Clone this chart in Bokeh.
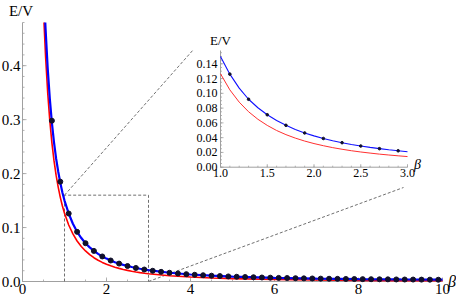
from bokeh.plotting import figure
from bokeh.models import Range1d
from bokeh.embed import file_html
from bokeh.resources import INLINE
from bokeh.core.properties import value

# ---------------- data ----------------
beta = [0.55, 0.6, 0.65, 0.7, 0.75, 0.8, 0.85, 0.9, 0.95,
        1.0, 1.1, 1.2, 1.3, 1.4, 1.5, 1.6, 1.7, 1.8, 1.9,
        2.0, 2.1, 2.2, 2.3, 2.4, 2.5, 2.6, 2.7, 2.8, 2.9,
        3.0, 3.5, 4.0, 4.5, 5.0, 6.0, 7.0, 8.0, 9.0, 10.0]
blue_ev = [0.467, 0.395, 0.339, 0.294, 0.258, 0.228, 0.204, 0.183, 0.165,
           0.150, 0.126, 0.107, 0.092, 0.0805, 0.071, 0.0632, 0.0567, 0.0511, 0.0464,
           0.0424, 0.0389, 0.0358, 0.0332, 0.0308, 0.0287, 0.0268, 0.0251, 0.0236, 0.0222,
           0.0210, 0.0162, 0.0130, 0.0108, 0.0091, 0.0069, 0.0055, 0.0045, 0.0038, 0.0033]
red_ev = [0.416, 0.350, 0.298, 0.257, 0.224, 0.197, 0.175, 0.156, 0.140,
          0.1265, 0.1047, 0.0881, 0.0751, 0.0649, 0.0566, 0.0497, 0.0441, 0.0394, 0.0354,
          0.0320, 0.0291, 0.0265, 0.0243, 0.0223, 0.0206, 0.0191, 0.0177, 0.0165, 0.0154,
          0.0144, 0.0106, 0.0082, 0.0065, 0.0053, 0.0037, 0.0028, 0.0021, 0.0017, 0.0014]
# where each curve leaves the top of the plot (beta, E/V)
blue_top = (0.542, 0.48)
red_top = (0.512, 0.48)

dot_beta = [0.7, 0.9, 1.1, 1.3, 1.5, 1.7, 1.9, 2.1, 2.3, 2.5, 2.7, 2.9,
            3.1, 3.3, 3.5, 3.7, 3.9, 4.1, 4.3, 4.5, 4.7, 4.9, 5.1, 5.3, 5.5,
            5.7, 5.9, 6.1, 6.3, 6.5, 6.7, 6.9, 7.1, 7.3, 7.5, 7.7, 7.9, 8.1,
            8.3, 8.5, 8.7, 8.9, 9.1, 9.3, 9.5, 9.7, 9.9]
dot_ev = [0.298, 0.185, 0.126, 0.092, 0.071, 0.0567, 0.0464, 0.0389, 0.0332, 0.0287, 0.0251, 0.0222,
          0.0199, 0.0179, 0.0162, 0.0148, 0.0136, 0.0125, 0.0116, 0.0108, 0.0101, 0.0094, 0.0088, 0.0083, 0.0079,
          0.0074, 0.0071, 0.0067, 0.0064, 0.0061, 0.0058, 0.0056, 0.0053, 0.0051, 0.0049, 0.0047, 0.0046, 0.0044,
          0.0042, 0.0041, 0.0040, 0.0038, 0.0037, 0.0036, 0.0035, 0.0034, 0.0033]

x_ticks = [0, 2, 4, 6, 8, 10]
x_labels = ["0", "2", "4", "6", "8", "10"]
y_ticks = [0.0, 0.1, 0.2, 0.3, 0.4]
y_labels = ["0.0", "0.1", "0.2", "0.3", "0.4"]
inset_x_ticks = [1.0, 1.5, 2.0, 2.5, 3.0]
inset_x_labels = ["1.0", "1.5", "2.0", "2.5", "3.0"]
inset_y_ticks = [0.00, 0.02, 0.04, 0.06, 0.08, 0.10, 0.12, 0.14]
inset_y_labels = ["0.00", "0.02", "0.04", "0.06", "0.08", "0.10", "0.12", "0.14"]

zoom_x = [1.0, 3.0]
zoom_y = [0.0, 0.16]

# ---------------- layout constants ----------------
W, H = 456, 302
FL, FR, FT, FB = 22, 442, 22, 281          # main plot area edges in px
XMAX, YMAX = 10.0, 0.48
mx_scale = (FR - FL) / XMAX
my_scale = (FB - FT) / YMAX
# inset placement (pixels): x=1.0 -> 220, x=3.0 -> 407 ; y=0 -> 166.7, 0.14 -> 63.3
IX0_PX, IX1_PX = 220.0, 407.0
IY0_PX, IY014_PX = 166.7, 63.3
ix_scale = (IX1_PX - IX0_PX) / 2.0
iy_scale = (IY0_PX - IY014_PX) / 0.14
INSET_YTOP = 0.158

SERIF = "Liberation Serif"
GRAY = "#a0a0a0"
DASH = "#707070"

p = figure(width=W, height=H, output_backend="svg", toolbar_location=None,
           x_range=Range1d(-FL / mx_scale, (W - FL) / mx_scale),
           y_range=Range1d(-(H - FB) / my_scale, FB / my_scale),
           x_axis_location=None, y_axis_location=None,
           min_border=0, min_border_left=0, min_border_right=0,
           min_border_top=0, min_border_bottom=0)
p.styles = {"position": "absolute", "left": "0px", "top": "0px"}
p.extra_x_ranges = {"ix": Range1d(1.0 - IX0_PX / ix_scale, 1.0 + (W - IX0_PX) / ix_scale)}
p.extra_y_ranges = {"iy": Range1d(-(H - IY0_PX) / iy_scale, IY0_PX / iy_scale)}
p.grid.visible = False
p.outline_line_color = None
p.background_fill_color = "white"
p.border_fill_color = "white"


def draw_axes(xt, xl, yt, yl, x0, x1, y0, y1, x_minor, y_minor, sx, sy,
              major_len, minor_len, font_size, xoff, yoff, **kw):
    # axis lines
    p.segment(x0=[x0, x0], y0=[y0, y0], x1=[x0, x1], y1=[y1, y0],
              line_color=GRAY, line_width=1, **kw)
    # minor ticks (inward)
    p.segment(x0=[x0] * len(y_minor), y0=y_minor, x1=[x0 + minor_len / sx] * len(y_minor), y1=y_minor,
              line_color=GRAY, line_width=0.8, **kw)
    p.segment(x0=x_minor, y0=[y0] * len(x_minor), x1=x_minor, y1=[y0 + minor_len / sy] * len(x_minor),
              line_color=GRAY, line_width=0.8, **kw)
    # major ticks (inward)
    p.segment(x0=[x0] * len(yt), y0=yt, x1=[x0 + major_len / sx] * len(yt), y1=yt,
              line_color=GRAY, line_width=0.8, **kw)
    p.segment(x0=xt, y0=[y0] * len(xt), x1=xt, y1=[y0 + major_len / sy] * len(xt),
              line_color=GRAY, line_width=0.8, **kw)
    # tick labels
    p.text(x=[x0] * len(yt), y=yt, text=yl, x_offset=xoff, text_align="right",
           text_baseline="middle", text_font=value(SERIF), text_font_size=font_size,
           text_color="black", **kw)
    p.text(x=xt, y=[y0] * len(xt), text=xl, y_offset=yoff, text_align="center",
           text_baseline="top", text_font=value(SERIF), text_font_size=font_size,
           text_color="black", **kw)


# ---------------- main plot ----------------
draw_axes(x_ticks, x_labels, y_ticks, y_labels, 0.0, XMAX, 0.0, YMAX,
          [i * 0.5 for i in range(21)], [round(i * 0.02, 2) for i in range(25)],
          mx_scale, my_scale, 4, 2, "15px", -2, 2)
p.text(x=[(20.5 - FL) / mx_scale], y=[(FB - 10.5) / my_scale], text=["E/V"],
       text_align="center", text_baseline="middle", text_font=value(SERIF),
       text_font_size="15px", text_color="black")
p.text(x=[(451.5 - FL) / mx_scale], y=[0.0], text=["β"], text_align="center",
       text_baseline="middle", text_font=value(SERIF), text_font_size="16px",
       text_font_style="italic", text_color="black")

# zoom box and connectors
p.line([zoom_x[0], zoom_x[0], zoom_x[1], zoom_x[1]],
       [zoom_y[0], zoom_y[1], zoom_y[1], zoom_y[0]],
       line_color=DASH, line_width=1, line_dash="3 2")
tl = ((193 - FL) / mx_scale, (FB - 49) / my_scale)   # inset corners in main coords
br = ((403 - FL) / mx_scale, (FB - 187) / my_scale)
p.segment(x0=[zoom_x[0], zoom_x[1]], y0=[zoom_y[1], zoom_y[0]],
          x1=[tl[0], br[0]], y1=[tl[1], br[1]],
          line_color=DASH, line_width=1, line_dash="3 2")

p.line([red_top[0]] + beta, [red_top[1]] + red_ev, line_color="#ff0000", line_width=1.6)
p.line([blue_top[0]] + beta, [blue_top[1]] + blue_ev, line_color="#0000ff", line_width=2.2)
p.scatter(dot_beta, dot_ev, size=5, color="#10102a")

# ---------------- inset ----------------
kw = dict(x_range_name="ix", y_range_name="iy")
draw_axes(inset_x_ticks, inset_x_labels, inset_y_ticks, inset_y_labels, 1.0, 3.0, 0.0, INSET_YTOP,
          [round(1.0 + i * 0.1, 2) for i in range(21)], [round(i * 0.005, 3) for i in range(32)],
          ix_scale, iy_scale, 3, 1.5, "12px", -3, 2, **kw)
p.text(x=[1.0], y=[(IY0_PX - 39.5) / iy_scale], text=["E/V"], text_align="center",
       text_baseline="middle", text_font=value(SERIF), text_font_size="13px",
       text_color="black", **kw)
p.text(x=[3.0 + 10 / ix_scale], y=[3 / iy_scale], text=["β"], text_align="center",
       text_baseline="middle", text_font=value(SERIF), text_font_size="14px",
       text_font_style="italic", text_color="black", **kw)

in_b = [b for b in beta if 1.0 <= b <= 3.0]
in_blue = [v for b, v in zip(beta, blue_ev) if 1.0 <= b <= 3.0]
in_red = [v for b, v in zip(beta, red_ev) if 1.0 <= b <= 3.0]
in_db = [b for b in dot_beta if 1.0 <= b <= 3.0]
in_dv = [v for b, v in zip(dot_beta, dot_ev) if 1.0 <= b <= 3.0]
p.line(in_b, in_red, line_color="#ff3030", line_width=1.0, **kw)
p.line(in_b, in_blue, line_color="#1010ff", line_width=1.1, **kw)
p.scatter(in_db, in_dv, size=2.6, color="#10102a", **kw)

open("out.html", "w").write(file_html(p, INLINE))
